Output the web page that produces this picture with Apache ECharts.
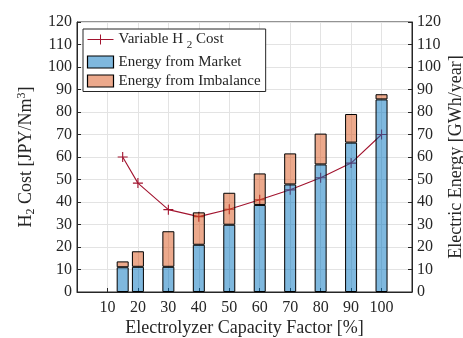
<!DOCTYPE html>
<html><head><meta charset="utf-8">
<script src="https://cdn.jsdelivr.net/npm/echarts@6/dist/echarts.min.js"></script>
<style>html,body{margin:0;padding:0;background:#fff}#c{width:463px;height:338px}</style>
</head><body><div id="c"></div>
<script>
const capacityFactor = [15, 20, 30, 40, 50, 60, 70, 80, 90, 100];
const variableCost = [60, 48.4, 36.6, 33.5, 36.8, 41, 45.4, 50.8, 57.3, 70];
const energyMarket = [11, 11.2, 11.2, 21, 29.9, 38.7, 47.8, 56.7, 66.4, 85.6];
const energyImbalance = [2.6, 6.9, 15.8, 14.4, 14.2, 14, 13.8, 13.7, 12.7, 2.3];
const tickLabels = [10, 20, 30, 40, 50, 60, 70, 80, 90, 100];

const font = 'Liberation Serif';
const xMin = 0, xMax = 110;
const slots = [];
for (let v = xMin; v <= xMax; v++) slots.push(String(v));

const chart = echarts.init(document.getElementById('c'));
const plusPath = 'path://M0,5L10,5M5,0L5,10';
const ax = '#262626';
chart.setOption({
  animation: false,
  textStyle: {fontFamily: font},
  grid: {left: 77, right: 51, top: 22, bottom: 46, show: true, borderColor: ax, borderWidth: 1,
    outerBoundsMode: 'none', containLabel: false},
  xAxis: [{
    type: 'value', min: xMin, max: xMax, interval: 10,
    axisLine: {show: true, lineStyle: {color: ax}},
    axisTick: {show: true, inside: true, length: 4, lineStyle: {color: ax}},
    axisLabel: {color: ax, fontSize: 16, fontFamily: font, margin: 8,
      formatter: v => tickLabels.includes(v) ? String(v) : ''},
    splitLine: {show: true, lineStyle: {color: '#e3e3e3'}},
    name: 'Electrolyzer Capacity Factor [%]', nameLocation: 'middle', nameGap: 27, nameMoveOverlap: false,
    nameTextStyle: {color: ax, fontSize: 18, fontFamily: font}
  }, {
    type: 'category', data: slots, boundaryGap: false, show: false
  }],
  yAxis: [{
    type: 'value', min: 0, max: 120, interval: 10, position: 'left',
    axisLine: {show: true, lineStyle: {color: ax}},
    axisTick: {show: true, inside: true, length: 4, lineStyle: {color: ax}},
    axisLabel: {color: ax, fontSize: 16, fontFamily: font, margin: 5},
    splitLine: {show: true, lineStyle: {color: '#e3e3e3'}},
    name: 'H{sub|2} Cost [JPY/Nm{sup|3}]', nameLocation: 'middle', nameGap: 40, nameMoveOverlap: false,
    nameTextStyle: {color: ax, fontSize: 18, fontFamily: font,
      rich: {sub: {fontSize: 12, fontFamily: font, color: ax, verticalAlign: 'bottom', padding: [9,0,0,0]},
             sup: {fontSize: 12, fontFamily: font, color: ax, verticalAlign: 'top', padding: [0,0,9,0]}}}
  }, {
    type: 'value', min: 0, max: 120, interval: 10, position: 'right',
    axisLine: {show: true, lineStyle: {color: ax}},
    axisTick: {show: true, inside: true, length: 4, lineStyle: {color: ax}},
    axisLabel: {color: ax, fontSize: 16, fontFamily: font, margin: 5},
    splitLine: {show: false},
    name: 'Electric Energy [GWh/year]', nameLocation: 'middle', nameGap: 35, nameMoveOverlap: false,
    nameTextStyle: {color: ax, fontSize: 18, fontFamily: font}
  }],
  legend: {
    left: 83, top: 29, orient: 'vertical', itemGap: 4, itemWidth: 26, itemHeight: 12,
    backgroundColor: '#fff', borderColor: ax, borderWidth: 1, padding: [3, 5, 3, 2],
    textStyle: {fontSize: 15, fontFamily: font, color: ax,
      rich: {sub: {fontSize: 11, fontFamily: font, color: ax, padding: [11,0,0,0]}}},
    formatter: n => n === 'Variable H2 Cost' ? 'Variable H {sub|2} Cost' : n,
    data: [{name: 'Variable H2 Cost', icon: 'path://M0,5L26,5M13,0L13,10', itemStyle: {color: 'none', borderColor: '#A2142F', borderWidth: 1}},
           {name: 'Energy from Market', icon: 'rect', itemStyle: {color: 'rgba(0,114,189,0.5)', borderColor: '#000', borderWidth: 1.2}},
           {name: 'Energy from Imbalance', icon: 'rect', itemStyle: {color: 'rgba(217,83,25,0.5)', borderColor: '#000', borderWidth: 1.2}}]
  },
  series: [{
    name: 'Variable H2 Cost', type: 'line', xAxisIndex: 0, yAxisIndex: 0, z: 1,
    data: capacityFactor.map((x, i) => [x, variableCost[i]]),
    lineStyle: {color: '#A2142F', width: 1.1},
    itemStyle: {color: 'none', borderColor: '#A2142F', borderWidth: 1.1},
    symbol: plusPath, symbolSize: 10, showSymbol: true
  }, {
    name: 'Energy from Market', type: 'bar', xAxisIndex: 1, yAxisIndex: 1, stack: 'e', z: 3, barWidth: 12,
    data: capacityFactor.map((x, i) => [String(x), energyMarket[i]]),
    itemStyle: {color: 'rgba(0,114,189,0.5)', borderColor: '#000', borderWidth: 1}
  }, {
    name: 'Energy from Imbalance', type: 'bar', xAxisIndex: 1, yAxisIndex: 1, stack: 'e', z: 3, barWidth: 12,
    data: capacityFactor.map((x, i) => [String(x), energyImbalance[i]]),
    itemStyle: {color: 'rgba(217,83,25,0.5)', borderColor: '#000', borderWidth: 1}
  }]
});
</script></body></html>
